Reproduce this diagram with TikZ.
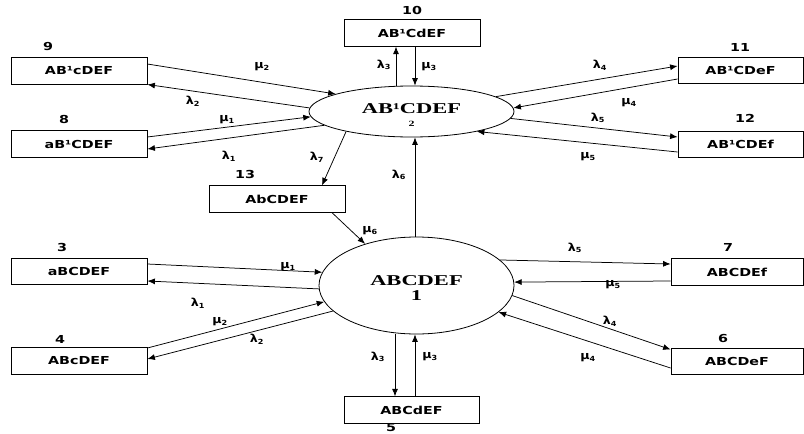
\documentclass[tikz,border=0pt]{standalone}
\usepackage{fontspec}
\usetikzlibrary{arrows.meta,shapes.geometric}
\newfontfamily\boxfont[FakeStretch=1.3]{DejaVu Sans Bold}
\newfontfamily\grfont[FakeStretch=1.15]{DejaVu Sans Bold}
\newfontfamily\elfont[FakeStretch=1.5]{Liberation Serif Bold}
\tikzset{
  box/.style={draw, line width=0.8pt, minimum height=26.5pt, inner sep=0pt, font=\boxfont\fontsize{11}{12}\selectfont},
  num/.style={font=\boxfont\fontsize{11}{12}\selectfont, inner sep=0pt},
  lab/.style={font=\grfont\fontsize{11}{12}\selectfont, inner sep=0pt},
  state/.style={draw, ellipse, line width=0.8pt, inner sep=0pt},
  arr/.style={-{Latex[length=7.5pt,width=6pt]}, line width=0.75pt}
}
\newcommand{\lam}[1]{λ\textsubscript{\fontsize{7}{7}\selectfont #1}}
\newcommand{\mmu}[1]{μ\textsubscript{\fontsize{7}{7}\selectfont #1}}
\begin{document}
\begin{tikzpicture}[x=1pt,y=-1pt]
\useasboundingbox (0,0) rectangle (804,434);
% states
\node[state, minimum width=205pt, minimum height=51pt] (e2) at (411.5,111.5) {};
\node[font=\elfont\fontsize{15}{15}\selectfont, inner sep=0pt] (t2) at (411.5,109) {AB¹CDEF};
\node[font=\elfont\fontsize{8}{8}\selectfont, inner sep=0pt] (n2) at (411.5,123.5) {2};
\node[state, minimum width=195pt, minimum height=97pt] (e1) at (416.5,285.5) {};
\node[font=\elfont\fontsize{15}{15}\selectfont, inner sep=0pt] (t1) at (416.5,280.5) {ABCDEF};
\node[font=\elfont\fontsize{15}{15}\selectfont, inner sep=0pt] (n1) at (416.5,296) {1};
% boxes
\node[box, minimum width=136pt] (b9) at (79,71) {AB¹cDEF};
\node[box, minimum width=136pt] (b8) at (79,144) {aB¹CDEF};
\node[box, minimum width=136pt] (b10) at (412,33) {AB¹CdEF};
\node[box, minimum width=125pt] (b11) at (740.5,70.5) {AB¹CDeF};
\node[box, minimum width=125pt] (b12) at (740.5,144.5) {AB¹CDEf};
\node[box, minimum width=136pt] (b13) at (277,199) {AbCDEF};
\node[box, minimum width=136pt] (b3) at (79,271.5) {aBCDEF};
\node[box, minimum width=136pt] (b4) at (79,361) {ABcDEF};
\node[box, minimum width=135pt] (b5) at (411.5,410) {ABCdEF};
\node[box, minimum width=132pt] (b7) at (737,272) {ABCDEf};
\node[box, minimum width=132pt, minimum height=25.5pt] (b6) at (737,361.5) {ABCDeF};
% numbers
\node[num] (l9) at (48,46) {9};
\node[num] (l8) at (64,119) {8};
\node[num] (l10) at (412,10) {10};
\node[num] (l11) at (740,47) {11};
\node[num] (l12) at (745,118) {12};
\node[num] (l13) at (245,174) {13};
\node[num] (l3) at (62,247) {3};
\node[num] (l4) at (60,339) {4};
\node[num] (l5) at (391,428) {5};
\node[num] (l7) at (728,247) {7};
\node[num] (l6) at (723,338) {6};
% connectors around state 2
\draw[arr] ([yshift=7pt]b9.east) -- (e2.167);
\draw[arr] (e2.178) -- ([yshift=-13.5pt]b9.east);
\draw[arr] ([yshift=7pt]b8.east) -- (e2.183);
\draw[arr] (e2.189) -- ([yshift=-5pt]b8.east);
\draw[arr] ([xshift=-15.5pt]e2.north) -- ([xshift=-16pt]b10.south);
\draw[arr] ([xshift=3pt]b10.south) -- ([xshift=3.5pt]e2.north);
\draw[arr] (e2.10) -- ([yshift=4.5pt]b11.west);
\draw[arr] ([yshift=-8.5pt]b11.west) -- (e2.2.5);
\draw[arr] (e2.356) -- ([yshift=7.5pt]b12.west);
\draw[arr] ([yshift=-7.5pt]b12.west) -- (e2.343);
\draw[arr] (e2.197) -- ([xshift=45pt]b13.north);
\draw[arr] ([xshift=55pt]b13.south) -- (e1.141);
\draw[arr] ([xshift=-1.5pt]e1.north) -- ([xshift=3.5pt]e2.south);
% connectors around state 1
\draw[arr] ([yshift=7.5pt]b3.east) -- (e1.172.7);
\draw[arr] (e1.182.6) -- ([yshift=-9.5pt]b3.east);
\draw[arr] ([yshift=13pt]b4.east) -- (e1.190);
\draw[arr] (e1.197) -- ([yshift=2pt]b4.east);
\draw[arr] ([xshift=-21.5pt]e1.south) -- ([xshift=-16.5pt]b5.north);
\draw[arr] ([xshift=3.5pt]b5.north) -- ([xshift=-1.5pt]e1.south);
\draw[arr] (e1.17.6) -- ([yshift=8pt]b7.west);
\draw[arr] ([yshift=-9pt]b7.west) -- (e1.2.6);
\draw[arr] (e1.354.4) -- ([yshift=12pt]b6.west);
\draw[arr] ([yshift=-6.5pt]b6.west) -- (e1.342);
% rate labels
\node[lab] (m2a) at (262,67) {\mmu{2}};
\node[lab] (k2a) at (193,101) {\lam{2}};
\node[lab] (m1a) at (227,120) {\mmu{1}};
\node[lab] (k1a) at (229,156) {\lam{1}};
\node[lab] (k3a) at (384,65) {\lam{3}};
\node[lab] (m3a) at (429,67) {\mmu{3}};
\node[lab] (k4a) at (600,65) {\lam{4}};
\node[lab] (m4a) at (629,103) {\mmu{4}};
\node[lab] (k5a) at (598,118) {\lam{5}};
\node[lab] (m5a) at (588,157) {\mmu{5}};
\node[lab] (k7) at (317,157) {\lam{7}};
\node[lab] (k6) at (399,175) {\lam{6}};
\node[lab] (m6) at (370,231) {\mmu{6}};
\node[lab] (m1b) at (288,267) {\mmu{1}};
\node[lab] (k1b) at (198,303) {\lam{1}};
\node[lab] (m2b) at (220,322) {\mmu{2}};
\node[lab] (k2b) at (257,339) {\lam{2}};
\node[lab] (k3b) at (378,357) {\lam{3}};
\node[lab] (m3b) at (430,357) {\mmu{3}};
\node[lab] (k5b) at (575,248) {\lam{5}};
\node[lab] (m5b) at (613,285) {\mmu{5}};
\node[lab] (k4b) at (610,321) {\lam{4}};
\node[lab] (m4b) at (588,358) {\mmu{4}};
\end{tikzpicture}
\end{document}
